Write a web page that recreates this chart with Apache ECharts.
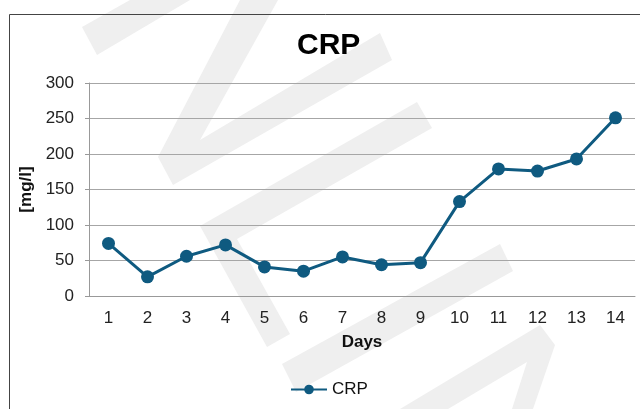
<!DOCTYPE html>
<html>
<head>
<meta charset="utf-8">
<script src="https://cdn.jsdelivr.net/npm/echarts@6/dist/echarts.min.js"></script>
<style>
  html, body { margin: 0; padding: 0; background: #fff; }
  #main { width: 640px; height: 409px; }
</style>
</head>
<body>
<div id="main"></div>
<script>
var days = ['1', '2', '3', '4', '5', '6', '7', '8', '9', '10', '11', '12', '13', '14'];
var crp = [74, 27, 56, 72, 41, 35, 55, 44, 47, 133, 179, 176, 193, 251];
var yTicks = [0, 50, 100, 150, 200, 250, 300];

var chartDom = document.getElementById('main');
var myChart = echarts.init(chartDom);
var option;

var wm = '#efefef';
var font = 'Liberation Sans';

option = {
    backgroundColor: '#fff',
    textStyle: { fontFamily: font },
    // watermark bands + outer frame
    graphic: [
        { type: 'polygon', z: -10, shape: { points: [[82, 27], [97, 55], [190, 0], [130, 0]] }, style: { fill: wm } },
        { type: 'polygon', z: -10, shape: { points: [[240, 0], [278, 0], [200, 140], [380, 33], [392, 60], [173, 185], [158, 157]] }, style: { fill: wm } },
        { type: 'polygon', z: -10, shape: { points: [[417, 102], [432, 128], [237, 239], [290, 334], [267, 347], [200, 226]] }, style: { fill: wm } },
        { type: 'polygon', z: -10, shape: { points: [[282, 364], [500, 244], [513, 271], [296, 392]] }, style: { fill: wm } },
        { type: 'polygon', z: -10, shape: { points: [[400, 409], [540, 325], [555, 345], [533, 409], [512, 409], [527, 362], [448, 409]] }, style: { fill: wm } },
        { type: 'rect', z: -5, shape: { x: 9.5, y: 14.5, width: 700, height: 500 }, style: { fill: null, stroke: '#444', lineWidth: 1 } }
    ],
    title: {
        text: 'CRP',
        left: 292,
        top: 26,
        textStyle: { fontFamily: font, fontSize: 30, fontWeight: 'bold', color: '#000' }
    },
    legend: {
        left: 290,
        top: 381,
        padding: 0,
        itemWidth: 36,
        itemHeight: 12,
        itemGap: 4,
        textStyle: { fontFamily: font, fontSize: 17, color: '#111' },
        data: ['CRP']
    },
    grid: { left: 89, right: 5, top: 83, bottom: 113 },
    xAxis: {
        type: 'category',
        data: days,
        boundaryGap: true,
        name: 'Days',
        nameLocation: 'middle',
        nameGap: 38,
        nameTextStyle: { fontFamily: font, fontSize: 17, fontWeight: 'bold', color: '#111' },
        axisLine: { lineStyle: { color: '#999' } },
        axisTick: { show: false },
        axisLabel: { fontFamily: font, fontSize: 17, color: '#222', margin: 14 }
    },
    yAxis: {
        type: 'value',
        min: yTicks[0],
        max: yTicks[yTicks.length - 1],
        interval: 50,
        name: '[mg/l]',
        nameLocation: 'middle',
        nameGap: 49,
        nameTextStyle: { fontFamily: font, fontSize: 17, fontWeight: 'bold', color: '#111' },
        axisLine: { show: true, lineStyle: { color: '#999' } },
        axisTick: { show: true, length: 4, lineStyle: { color: '#999' } },
        splitLine: { lineStyle: { color: '#a6a6a6' } },
        axisLabel: { fontFamily: font, fontSize: 17, color: '#222', margin: 15 }
    },
    series: [
        {
            name: 'CRP',
            type: 'line',
            data: crp,
            symbol: 'circle',
            symbolSize: 13,
            color: '#0f5a80',
            lineStyle: { width: 3 },
            itemStyle: { color: '#0f5a80' }
        }
    ]
};

option && myChart.setOption(option);
</script>
</body>
</html>
